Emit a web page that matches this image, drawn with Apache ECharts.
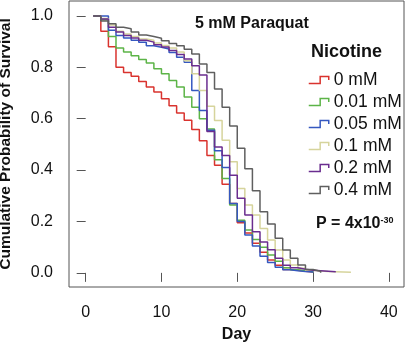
<!DOCTYPE html>
<html>
<head>
<meta charset="utf-8">
<script src="https://cdn.jsdelivr.net/npm/echarts@6/dist/echarts.min.js"></script>
<style>
  html, body { margin: 0; padding: 0; background: #fff; }
  #chart { width: 406px; height: 342px; }
</style>
</head>
<body>
<div id="chart"></div>
<script>
// survival by day, each list starts at day 1
var groups = ["0 mM", "0.01 mM", "0.05 mM", "0.1 mM", "0.2 mM", "0.4 mM"];
var colors = ["#d9332e", "#5cb447", "#3558c0", "#d6d49c", "#6a2d8f", "#5f5f5f"];

var red = [1.00, 0.94, 0.88, 0.80, 0.78, 0.765, 0.745, 0.723, 0.704, 0.678, 0.65, 0.622, 0.594, 0.558, 0.514,
  0.457, 0.419, 0.345, 0.27, 0.195, 0.155, 0.115, 0.08, 0.05, 0.03, 0.013, 0.01, 0.006, 0.003, 0.0];
var green = [1.00, 0.985, 0.92, 0.875, 0.86, 0.845, 0.83, 0.817, 0.794, 0.775, 0.749, 0.723, 0.684, 0.645, 0.60,
  0.56, 0.44, 0.367, 0.264, 0.205, 0.167, 0.13, 0.10, 0.07, 0.045, 0.02, 0.012, 0.008, 0.004, 0.0];
var blue = [1.00, 1.00, 0.944, 0.924, 0.914, 0.905, 0.897, 0.884, 0.878, 0.871, 0.858, 0.839, 0.82, 0.71, 0.632,
  0.555, 0.475, 0.41, 0.27, 0.20, 0.147, 0.105, 0.065, 0.04, 0.022, 0.012, 0.008, 0.005, 0.003, 0.0];
var tan = [1.00, 0.99, 0.965, 0.94, 0.93, 0.92, 0.91, 0.905, 0.895, 0.885, 0.875, 0.86, 0.825, 0.775, 0.71,
  0.648, 0.593, 0.516, 0.432, 0.328, 0.264, 0.225, 0.173, 0.128, 0.089, 0.05, 0.031, 0.018, 0.01, 0.007,
  0.005, 0.004, 0.003, 0.002, 0.0];
var purple = [1.00, 0.988, 0.956, 0.937, 0.924, 0.914, 0.905, 0.898, 0.888, 0.879, 0.865, 0.85, 0.832, 0.806, 0.77,
  0.55, 0.49, 0.457, 0.38, 0.29, 0.225, 0.16, 0.12, 0.09, 0.057, 0.03, 0.02, 0.014, 0.01, 0.008,
  0.006, 0.004, 0.002];
var gray = [1.00, 0.98, 0.969, 0.956, 0.95, 0.937, 0.926, 0.92, 0.913, 0.903, 0.893, 0.884, 0.87, 0.852, 0.813,
  0.78, 0.716, 0.645, 0.572, 0.485, 0.405, 0.32, 0.238, 0.19, 0.135, 0.089, 0.057, 0.031, 0.013, 0.006, 0.0];

var xTicks = [0, 10, 20, 30, 40];
var yTicks = [0, 0.2, 0.4, 0.6, 0.8, 1.0];

var curves = [red, green, blue, tan, purple, gray];
var font = "Liberation Sans, Arial, sans-serif";

function toPairs(arr) {
  return arr.map(function (v, i) { return [i + 1, v]; });
}

var myChart = echarts.init(document.getElementById("chart"));
var option = {
  animation: false,
  color: colors,
  textStyle: { fontFamily: font },
  grid: {
    show: true,
    left: 69,
    right: 2,
    top: 1,
    bottom: 55,
    outerBoundsMode: "none",
    containLabel: false,
    borderColor: "#555",
    borderWidth: 1
  },
  title: [
    { text: "5 mM Paraquat", left: 190, top: 11,
      textStyle: { fontSize: 16, fontWeight: "bold", color: "#111", fontFamily: font } },
    { text: "Nicotine", left: 306, top: 38,
      textStyle: { fontSize: 18, fontWeight: "bold", color: "#111", fontFamily: font } },
    { text: "P = 4x10{s|-30}", left: 311, top: 211,
      textStyle: { fontSize: 16, fontWeight: "bold", color: "#111", fontFamily: font,
        rich: { s: { fontSize: 9, fontWeight: "bold", verticalAlign: "top", padding: [0, 0, 7, 0] } } } }
  ],
  legend: {
    orient: "vertical",
    left: 303,
    top: 66,
    itemWidth: 20,
    itemHeight: 7,
    itemGap: 4,
    symbolKeepAspect: false,
    textStyle: { fontSize: 17.5, color: "#111", lineHeight: 15, fontFamily: font },
    data: groups.map(function (g, i) {
      return {
        name: g,
        icon: "path://M0,6 L8,6 L8,0 L14,0 L14,3",
        symbolKeepAspect: false,
        itemStyle: { color: "rgba(0,0,0,0)", borderColor: colors[i], borderWidth: 1.5 }
      };
    })
  },
  xAxis: {
    type: "value",
    min: -2.2,
    max: 42,
    offset: 2,
    name: "Day",
    nameLocation: "middle",
    nameGap: 38,
    nameTextStyle: { fontSize: 16, fontWeight: "bold", color: "#111", fontFamily: font },
    splitLine: { show: false },
    axisLine: { show: false },
    axisTick: { show: true, length: 9, customValues: xTicks, lineStyle: { color: "#555" } },
    axisLabel: { fontSize: 16, color: "#111", margin: 16, customValues: xTicks, fontFamily: font }
  },
  yAxis: {
    type: "value",
    min: -0.055,
    max: 1.058,
    offset: 2,
    name: "Cumulative Probability of Survival",
    nameLocation: "middle",
    nameGap: 53,
    nameTextStyle: { fontSize: 15.5, fontWeight: "bold", color: "#111", fontFamily: font },
    splitLine: { show: false },
    axisLine: { show: false },
    axisTick: { show: true, length: 9, customValues: yTicks, lineStyle: { color: "#555" } },
    axisLabel: {
      fontSize: 16, color: "#111", margin: 14, customValues: yTicks, fontFamily: font,
      formatter: function (v) { return v.toFixed(1); }
    }
  },
  series: curves.map(function (c, i) {
    return {
      name: groups[i],
      type: "line",
      step: "end",
      symbol: "none",
      data: toPairs(c),
      lineStyle: { width: 1.5, color: colors[i] }
    };
  })
};
myChart.setOption(option);
</script>
</body>
</html>
